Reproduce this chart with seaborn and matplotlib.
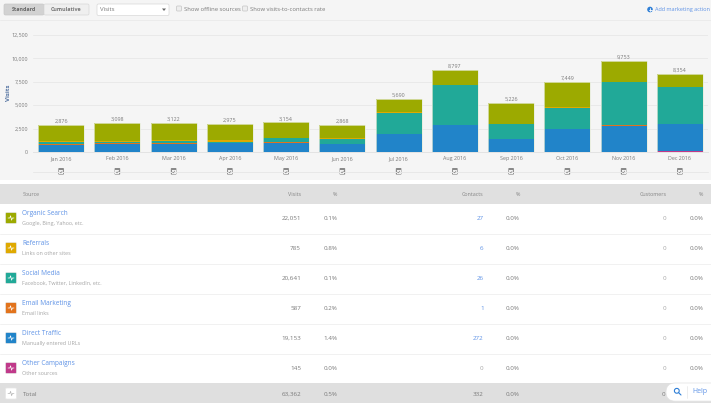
"""
Marketing sources dashboard: stacked monthly visits and source table
"""

import matplotlib.pyplot as plt
import seaborn as sns
from matplotlib.patches import Circle, FancyBboxPatch, Rectangle

months = ['Jan 2016', 'Feb 2016', 'Mar 2016', 'Apr 2016', 'May 2016', 'Jun 2016',
          'Jul 2016', 'Aug 2016', 'Sep 2016', 'Oct 2016', 'Nov 2016', 'Dec 2016']
totals = [2876, 3098, 3122, 2975, 3154, 2868, 5690, 8797, 5226, 7449, 9753, 8354]

other = [0, 0, 0, 0, 0, 0, 0, 0, 0, 0, 0, 100]
direct = [750, 850, 890, 925, 1000, 850, 1920, 2920, 1390, 2420, 2810, 2890]
email = [140, 70, 110, 20, 100, 20, 15, 15, 25, 40, 30, 15]
social = [210, 180, 170, 155, 360, 480, 2260, 4180, 1570, 2260, 4650, 3960]
referrals = [30, 30, 150, 130, 60, 130, 30, 30, 25, 130, 40, 20]
organic = [1746, 1968, 1802, 1745, 1634, 1388, 1465, 1652, 2216, 2599, 2223, 1369]

y_ticks = [0, 2500, 5000, 7500, 10000, 12500]

sources = ['Organic Search', 'Referrals', 'Social Media', 'Email Marketing',
           'Direct Traffic', 'Other Campaigns']
source_notes = ['Google, Bing, Yahoo, etc.', 'Links on other sites',
                'Facebook, Twitter, LinkedIn, etc.', 'Email links',
                'Manually entered URLs', 'Other sources']
source_visits = ['22,051', '785', '20,641', '587', '19,153', '145']
source_visit_pct = ['0.1%', '0.8%', '0.1%', '0.2%', '1.4%', '0.0%']
source_contacts = ['27', '6', '26', '1', '272', '0']
source_customers = ['0', '0', '0', '0', '0', '0']

COLORS = {'organic': '#9caa00', 'referrals': '#dfa900', 'social': '#21a998',
          'email': '#e2731c', 'direct': '#2184c9', 'other': '#c0398a'}
TEXT = '#7a7a7a'
LINK = '#5f93e6'
W, H = 711, 403

sns.set_theme(style='white')
plt.rcParams['font.family'] = ['Open Sans', 'DejaVu Sans']

fig = plt.figure(figsize=(W / 100, H / 100), dpi=100, facecolor='white')

# Page layer in pixel coordinates
bg = fig.add_axes([0, 0, 1, 1])
bg.set_xlim(0, W)
bg.set_ylim(H, 0)
bg.axis('off')


def rect(x, y, w, h, color, **kw):
    bg.add_patch(Rectangle((x, y), w, h, facecolor=color, edgecolor='none', **kw))


def rounded(x, y, w, h, color, edge='none', lw=0.5, r=1.5):
    bg.add_patch(FancyBboxPatch((x + r, y + r), w - 2 * r, h - 2 * r,
                                boxstyle=f'round,pad={r}', facecolor=color,
                                edgecolor=edge, linewidth=lw))


def label(x, y, s, size=3.9, color=TEXT, ha='left', **kw):
    bg.text(x, y, s, fontsize=size, color=color, ha=ha, va='center', **kw)


rect(0, 0, W, 180, '#f5f5f5')
bg.plot([0, W], [20, 20], color='#ebebeb', lw=0.7)

# Toolbar
rounded(4, 4, 40, 11, '#d2d2d2', edge='#c8c8c8')
rounded(44, 4, 45, 11, '#efefef', edge='#d8d8d8')
label(24, 9.5, 'Standard', ha='center', color='#666666', fontweight='bold')
label(66.5, 9.5, 'Cumulative', ha='center', color='#777777', fontweight='bold')
rounded(97, 4, 72, 11.5, '#ffffff', edge='#d8d8d8')
label(100.5, 9.5, 'Visits', size=4.4)
bg.fill([162, 166, 164], [8.5, 8.5, 11], color='#666666', lw=0)
for box_x, box_text in [(176.5, 'Show offline sources'), (242.5, 'Show visits-to-contacts rate')]:
    rounded(box_x, 6, 5, 5, '#eeeeee', edge='#c4c4c4', r=1)
    label(box_x + 7.5, 9.5, box_text, size=4.2)
bg.add_patch(Circle((650, 9.5), 2.8, color='#2f7fd6', lw=0))
bg.plot([648.5, 651.5], [9.5, 9.5], color='white', lw=0.6)
bg.plot([650, 650], [8, 11], color='white', lw=0.6)
label(710, 9.5, 'Add marketing action', size=3.95, color=LINK, ha='right')

# Marketing-action strip under the bars
bg.plot([33, 708], [172, 172], color='#e8e8e8', lw=0.7)
for i in range(len(months)):
    cx = 33 + (i + 0.5) * 675 / len(months)
    rounded(cx - 2.8, 168, 5.6, 6.6, '#8a8a8a', r=0.8)
    rect(cx - 1.9, 170, 3.8, 3.8, '#f2f2f2')
    bg.plot([cx - 1.2, cx - 0.3, cx + 1.2], [172, 172.9, 171], color='#777777', lw=0.4)

# Chart
ax = fig.add_axes([33 / W, 1 - 152 / H, 675 / W, 117 / H], facecolor='none')
bottom = [0] * len(months)
layers = [(other, 'other'), (direct, 'direct'), (email, 'email'),
          (social, 'social'), (referrals, 'referrals'), (organic, 'organic')]
for values, key in layers:
    sns.barplot(x=months, y=values, bottom=bottom, color=COLORS[key], saturation=1,
                width=0.82, linewidth=0, ax=ax, zorder=3)
    bottom = [b + v for b, v in zip(bottom, values)]
sns.barplot(x=months, y=totals, fill=False, edgecolor='#e6ecd8', linewidth=0.5,
            width=0.82, ax=ax, zorder=4)

ax.set_xlim(-0.5, len(months) - 0.5)
ax.set_ylim(0, 12500)
ax.set_yticks(y_ticks)
ax.set_yticklabels([f'{t:,}' for t in y_ticks])
ax.tick_params(axis='y', length=0, pad=3.5, labelsize=3.9, labelcolor=TEXT)
ax.tick_params(axis='x', length=0, pad=3, labelsize=3.9, labelcolor=TEXT)
ax.grid(axis='y', color='#e9e9e9', linewidth=0.7, zorder=0)
ax.set_axisbelow(True)
sns.despine(ax=ax, left=True, top=True, right=True)
ax.spines['bottom'].set_color('#e3e3e3')
ax.spines['bottom'].set_linewidth(0.7)
ax.set_ylabel('')

for i, total in enumerate(totals):
    ax.text(i, total + 130, f'{total:,}', ha='center', va='bottom', fontsize=3.9, color=TEXT)

label(8.5, 93, 'Visits', size=4.4, color='#4f6f9f', ha='center', rotation=90, fontweight='bold')

# Table
rect(0, 184, W, 19.5, '#e0e0e0')
label(22.5, 194, 'Source', color='#858585')
for x, head in [(301, 'Visits'), (337.5, '%'), (483.7, 'Contacts'), (520, '%'),
                (666.7, 'Customers'), (703, '%')]:
    label(x, 194, head, ha='right', color='#858585')

row_colors = [COLORS['organic'], COLORS['referrals'], COLORS['social'],
              COLORS['email'], COLORS['direct'], COLORS['other']]


def pulse_icon(y, color, line='white'):
    rounded(5.5, y - 5.5, 11, 11, color, edge='#e6e6e6', lw=0.5, r=1.2)
    bg.plot([8, 9.8, 10.6, 11.6, 12.4, 14],
            [y, y, y - 2.2, y + 2.2, y, y], color=line, lw=0.5)


for i, name in enumerate(sources):
    top = 203.5 + i * 30
    mid = top + 14.5
    if i:
        bg.plot([0, W], [top, top], color='#efefef', lw=0.6)
    pulse_icon(mid, row_colors[i])
    label(22.5, top + 10.3, name, size=4.7, color=LINK)
    label(22.5, top + 20, source_notes[i], size=3.9, color='#a6a6a6')
    label(301, mid, source_visits[i], size=4.5, ha='right')
    label(337.5, mid, source_visit_pct[i], size=4.5, ha='right')
    contact_color = LINK if source_contacts[i] != '0' else '#a6a6a6'
    label(483.7, mid, source_contacts[i], size=4.5, ha='right', color=contact_color)
    label(520, mid, '0.0%', size=4.5, ha='right')
    label(666.7, mid, source_customers[i], size=4.5, ha='right', color='#a6a6a6')
    label(703, mid, '0.0%', size=4.5, ha='right')

# Total row (its last columns sit behind the help widget)
rect(0, 383, W, 20, '#dfdfdf')
pulse_icon(393.5, '#ffffff', line='#b5b5b5')
label(22.5, 394, 'Total', size=4.5)
label(301, 394, '63,362', size=4.5, ha='right')
label(337.5, 394, '0.5%', size=4.5, ha='right')
label(483.7, 394, '332', size=4.5, ha='right')
label(520, 394, '0.0%', size=4.5, ha='right')
label(665, 394, '0', size=4.5, ha='right')

# Help widget
bg.add_patch(FancyBboxPatch((675, 392), 45, 0.1, boxstyle='round,pad=9,rounding_size=9',
                            facecolor='white', edgecolor='#e2e2e2', linewidth=0.5, zorder=5))
bg.add_patch(Circle((676.8, 390.8), 2.4, facecolor='none', edgecolor='#2f7fd6', lw=0.8, zorder=6))
bg.plot([678.6, 681], [392.6, 395], color='#2f7fd6', lw=0.8, zorder=6)
bg.plot([686.5, 686.5], [386, 398], color='#e6e6e6', lw=0.5, zorder=6)
label(692.5, 391.5, 'Help', size=5, color=LINK, zorder=6)

fig.savefig('out.png', dpi=100)
plt.close(fig)
